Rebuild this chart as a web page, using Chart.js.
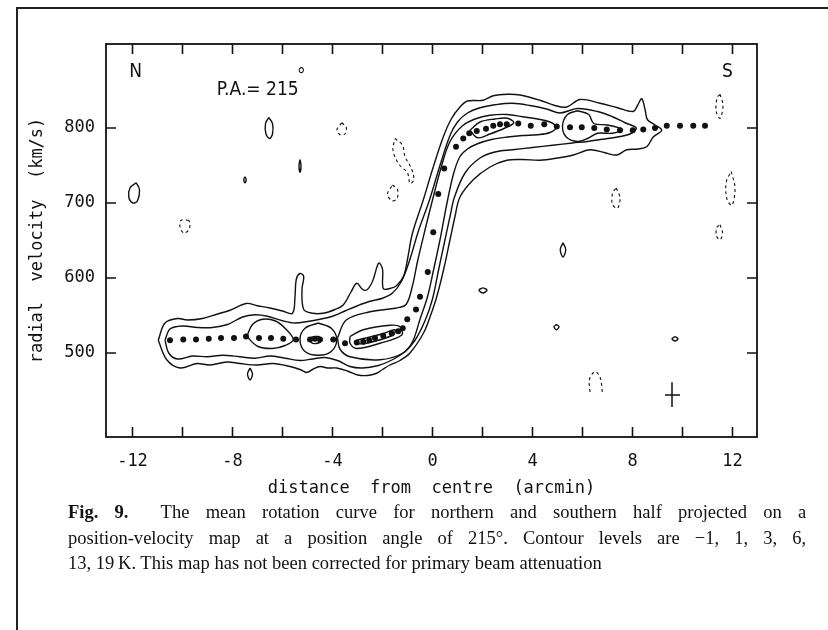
<!DOCTYPE html>
<html>
<head>
<meta charset="utf-8">
<script src="https://cdn.jsdelivr.net/npm/chart.js@4.4.1/dist/chart.umd.min.js"></script>
<style>
body { margin: 0; background: #fff; }
#wrap { position: relative; width: 828px; height: 630px; overflow: hidden; }
#frame { position: absolute; left: 16px; top: 7px; width: 900px; height: 700px; border-left: 2px solid #222; border-top: 2px solid #222; }
canvas { position: absolute; left: 0; top: 0; }
#cap { position: absolute; left: 68px; top: 499px; width: 777px; transform: scaleX(0.95); transform-origin: 0 0;
  font-family: "Liberation Serif", "Times New Roman", serif; font-size: 19.5px; line-height: 25.5px; color: #111; }
.j { text-align: justify; text-align-last: justify; }
</style>
</head>
<body>
<div id="wrap">
  <div id="frame"></div>
  <canvas id="grafico" width="828" height="630"></canvas>
  <div id="cap">
    <div class="j"><b>Fig. 9.</b>&nbsp; The mean rotation curve for northern and southern half projected on a</div>
    <div class="j">position-velocity map at a position angle of 215°. Contour levels are −1, 1, 3, 6,</div>
    <div>13, 19&#8201;K. This map has not been corrected for primary beam attenuation</div>
  </div>
</div>
<script>
// eixos
var xMinorTicks = [-12, -10, -8, -6, -4, -2, 0, 2, 4, 6, 8, 10, 12];
var xTickLabels = [-12, -8, -4, 0, 4, 8, 12];
var yTickLabels = [500, 600, 700, 800];

// curva de rotacao media (pontos)
var curveDist = [-10.5, -9.97, -9.46, -8.95, -8.46, -7.94, -7.46, -6.94, -6.46, -5.97, -5.46, -4.9, -4.7, -4.5, -3.97,
  -3.5, -3.03, -2.77, -2.53, -2.3, -1.97, -1.63, -1.37, -1.19, -1.01, -0.66, -0.5, -0.19, 0.03, 0.23, 0.47, 0.94,
  1.23, 1.47, 1.77, 2.14, 2.43, 2.7, 2.97, 3.43, 3.93, 4.47, 4.97, 5.5, 5.97, 6.47, 6.97, 7.5, 8.01, 8.43, 8.9,
  9.37, 9.9, 10.43, 10.9];
var curveVel = [517, 518, 518, 519, 520, 520, 522, 520, 520, 519, 518, 518, 519, 518, 518,
  513, 514, 515, 517, 520, 523, 526, 529, 533, 545, 558, 575, 608, 661, 712, 746, 775,
  786, 793, 796, 799, 803, 805, 805, 806, 803, 805, 802, 801, 801, 800, 798, 797, 797, 798, 800,
  803, 803, 803, 803];

// contornos (distancia, velocidade)
var contour1K = [[-10.97,517],[-10.7,540],[-10.2,546],[-9.8,544],[-9.2,546],[-8.6,552],[-8.1,557],[-7.45,566],[-7.0,563],
  [-6.5,560],[-6.0,556],[-5.6,553],[-5.5,575],[-5.45,598],[-5.3,606],[-5.15,602],[-5.22,585],[-5.15,558],[-4.8,553],
  [-4.37,553],[-3.9,558],[-3.57,564],[-3.25,582],[-3.03,593],[-2.8,585],[-2.63,584],[-2.45,592],[-2.35,600],[-2.15,620],
  [-2.0,612],[-1.97,586],[-1.7,586],[-1.43,590],[-1.15,603],[-1.0,625],[-0.8,660],[-0.37,704],[0.03,748],[0.43,788],
  [0.75,812],[1.1,828],[1.4,836],[2.03,837],[2.43,843],[3.0,845],[3.5,844],[4.3,837],[4.9,830],[5.37,828],[5.9,838],
  [6.7,833],[7.4,827],[8.03,822],[8.2,830],[8.37,839],[8.5,825],[8.6,811],[8.9,804],[9.17,797],[8.83,788],[8.57,775],
  [8.2,772],[7.77,771],[7.37,764],[6.9,767],[6.3,771],[5.63,764],[5.0,760],[4.3,757],[3.6,758],[2.97,757],[2.3,748],
  [1.63,731],[1.1,708],[0.9,682],[0.7,651],[0.45,612],[0.17,575],[-0.1,548],[-0.37,526],[-0.9,500],[-1.3,490],
  [-1.7,484],[-2.0,478],[-2.23,473],[-2.6,470],[-3.03,471],[-3.4,476],[-3.83,480],[-4.2,480],[-4.5,482],[-4.8,478],
  [-5.03,474],[-5.3,478],[-5.7,482],[-6.37,486],[-7.03,484],[-7.7,486],[-8.23,488],[-8.9,484],[-9.43,486],[-10.1,480],
  [-10.63,491],[-10.97,517]];
var contour3K = [[-10.7,517],[-10.5,532],[-10.0,536],[-9.4,534],[-8.8,534],[-8.2,538],[-7.6,548],[-7.1,551],[-6.6,549],
  [-6.0,543],[-5.5,540],[-5.0,542],[-4.5,545],[-4.0,549],[-3.5,556],[-3.0,563],[-2.5,569],[-2.0,573],[-1.6,580],
  [-1.25,595],[-0.95,620],[-0.55,664],[-0.12,704],[0.28,748],[0.7,790],[1.0,808],[1.4,820],[1.9,827],[2.5,831],
  [3.2,833],[3.9,830],[4.6,825],[5.1,820],[5.8,826],[6.6,822],[7.2,815],[7.7,807],[8.15,800],[7.9,792],[7.4,788],
  [6.8,785],[6.2,782],[5.6,780],[4.8,777],[4.0,774],[3.2,771],[2.5,768],[1.9,760],[1.3,740],[0.88,708],[0.7,682],
  [0.5,651],[0.25,612],[0.0,572],[-0.3,543],[-0.7,517],[-1.1,502],[-1.6,491],[-2.2,483],[-2.8,480],[-3.3,482],
  [-3.8,490],[-4.3,494],[-4.8,492],[-5.3,490],[-5.9,493],[-6.5,496],[-7.1,493],[-7.7,495],[-8.4,497],[-9.0,495],
  [-9.6,496],[-10.2,492],[-10.55,500],[-10.7,517]];
var contour6K = [[-3.8,520],[-3.45,544],[-2.5,555],[-1.45,560],[-1.05,565],[-0.8,590],[-0.6,622],[-0.3,664],[0.0,704],
  [0.35,748],[0.7,782],[1.2,803],[1.7,812],[2.3,817],[3.0,818],[3.6,815],[4.2,812],[4.7,808],[4.95,801],[4.7,794],
  [4.2,791],[3.6,790],[3.0,788],[2.4,785],[1.8,779],[1.4,772],[1.1,762],[0.85,740],[0.58,700],[0.3,651],[0.05,612],
  [-0.2,575],[-0.5,545],[-0.8,515],[-1.17,500],[-2.1,491],[-3.3,495],[-3.7,505],[-3.8,520]];
var loop6KWest = [[-7.43,522],[-7.2,538],[-6.8,545],[-6.3,543],[-5.9,533],[-5.57,518],[-5.9,510],[-6.4,506],[-7.0,509],[-7.43,522]];
var loop6KMid = [[-4.57,540],[-4.05,533],[-3.83,518],[-4.05,502],[-4.57,497],[-5.1,502],[-5.3,518],[-5.1,533],[-4.57,540]];
var loop13KMid = [[-4.85,521],[-4.55,522],[-4.45,517],[-4.6,513],[-4.85,514],[-4.85,521]];
var loop6KEast = [[5.8,823],[6.25,818],[6.45,806],[7.0,804],[7.6,798],[7.2,793],[6.6,793],[6.2,786],[5.8,782],[5.35,788],[5.2,803],[5.4,818],[5.8,823]];
var loop13KNorth = [[-3.3,522],[-2.77,531],[-1.7,537],[-1.3,535],[-1.23,524],[-2.1,513],[-3.03,506],[-3.3,513],[-3.3,522]];
var loop19KNorth = [[-3.03,517],[-1.97,526],[-1.5,531],[-1.57,524],[-2.63,513],[-3.03,513],[-3.03,517]];
var loop13KSouth = [[1.5,797],[1.9,808],[2.5,812],[3.0,813],[3.25,807],[2.9,800],[2.3,792],[1.8,787],[1.5,797]];

// pequenos contornos isolados (positivos)
var spotsPositive = [
  [[-6.55,814],[-6.4,806],[-6.4,792],[-6.52,786],[-6.66,792],[-6.68,806],[-6.55,814]],
  [[-5.3,758],[-5.26,750],[-5.3,741],[-5.34,750],[-5.3,758]],
  [[-7.5,735],[-7.45,731],[-7.5,727],[-7.55,731],[-7.5,735]],
  [[-11.85,727],[-11.72,718],[-11.8,703],[-11.98,700],[-12.15,708],[-12.1,720],[-11.85,727]],
  [[-7.3,480],[-7.2,472],[-7.3,464],[-7.4,472],[-7.3,480]],
  [[5.22,647],[5.33,638],[5.22,628],[5.11,638],[5.22,647]],
  [[2.02,587],[2.18,584],[2.02,580],[1.86,584],[2.02,587]],
  [[4.96,538],[5.06,535],[4.96,531],[4.86,535],[4.96,538]],
  [[9.7,522],[9.82,519],[9.7,516],[9.58,519],[9.7,522]]
];
// contornos negativos (-1 K, tracejados)
var spotsNegative = [
  [[-9.75,677],[-10.05,677],[-10.1,668],[-9.95,660],[-9.75,664],[-9.7,672],[-9.75,677]],
  [[-3.63,807],[-3.45,801],[-3.5,792],[-3.7,791],[-3.82,798],[-3.63,807]],
  [[-1.5,786],[-1.2,777],[-1.1,762],[-0.83,745],[-0.75,731],[-0.9,726],[-1.0,740],[-1.35,752],[-1.58,770],[-1.5,786]],
  [[-1.6,724],[-1.4,718],[-1.42,706],[-1.62,703],[-1.8,712],[-1.6,724]],
  [[6.3,448],[6.28,465],[6.5,475],[6.7,468],[6.8,447]],
  [[11.5,845],[11.62,830],[11.5,813],[11.35,822],[11.38,840],[11.5,845]],
  [[11.95,742],[12.1,720],[11.98,697],[11.78,705],[11.75,728],[11.95,742]],
  [[11.5,671],[11.6,660],[11.5,651],[11.35,657],[11.38,668],[11.5,671]],
  [[7.35,720],[7.5,707],[7.4,693],[7.2,698],[7.2,713],[7.35,720]]
];
// barra de resolucao
var beamVertical = [[9.58,461],[9.58,428]];
var beamHorizontal = [[9.3,444],[9.9,444]];

// textos dentro do mapa
var notes = [
  { text: 'N', x: -11.87, y: 874, align: 'center', size: 19 },
  { text: 'S', x: 11.8, y: 874, align: 'center', size: 19 },
  { text: 'P.A.= 215', x: -8.63, y: 851, align: 'left', size: 19 },
  { text: '°', x: -5.25, y: 868, align: 'center', size: 19 }
];

var tinta = '#111';
var fonteEixo = '"DejaVu Sans Mono", monospace';

function pts(arr) {
  return arr.map(function (p) { return { x: p[0], y: p[1] }; });
}
function linha(arr, tracejado, largura) {
  return {
    data: pts(arr),
    showLine: true,
    borderColor: tinta,
    borderWidth: largura || 1.4,
    borderDash: tracejado ? [3, 3] : [],
    pointRadius: 0,
    tension: arr.length < 3 ? 0 : 0.35,
    fill: false
  };
}

var datasets = [];
datasets.push({
  data: curveDist.map(function (d, i) { return { x: d, y: curveVel[i] }; }),
  showLine: false,
  pointRadius: 3,
  pointBackgroundColor: tinta,
  pointBorderWidth: 0
});
[contour1K, contour3K, contour6K, loop6KWest, loop6KMid, loop13KMid, loop6KEast, loop13KNorth, loop19KNorth, loop13KSouth]
  .forEach(function (c) { datasets.push(linha(c, false)); });
spotsPositive.forEach(function (c) { datasets.push(linha(c, false)); });
spotsNegative.forEach(function (c) { datasets.push(linha(c, true, 1.1)); });
datasets.push(linha(beamVertical, false, 1.5));
datasets.push(linha(beamHorizontal, false, 1.5));

var moldura = {
  id: 'moldura',
  afterDatasetsDraw: function (chart) {
    var ctx = chart.ctx, a = chart.chartArea, x = chart.scales.x, y = chart.scales.y;
    ctx.save();
    ctx.strokeStyle = tinta;
    ctx.lineWidth = 1.8;
    ctx.strokeRect(a.left, a.top, a.right - a.left, a.bottom - a.top);
    ctx.beginPath();
    xMinorTicks.forEach(function (v) {
      var px = x.getPixelForValue(v);
      ctx.moveTo(px, a.bottom); ctx.lineTo(px, a.bottom - 10);
      ctx.moveTo(px, a.top); ctx.lineTo(px, a.top + 10);
    });
    yTickLabels.forEach(function (v) {
      var py = y.getPixelForValue(v);
      ctx.moveTo(a.left, py); ctx.lineTo(a.left + 10, py);
      ctx.moveTo(a.right, py); ctx.lineTo(a.right - 10, py);
    });
    ctx.lineWidth = 1.6;
    ctx.stroke();
    ctx.fillStyle = tinta;
    ctx.textBaseline = 'middle';
    notes.forEach(function (n) {
      ctx.font = n.size + 'px "DejaVu Sans Condensed", "DejaVu Sans", sans-serif';
      ctx.textAlign = n.align;
      ctx.fillText(n.text, x.getPixelForValue(n.x), y.getPixelForValue(n.y));
    });
    ctx.restore();
  }
};

new Chart(document.getElementById('grafico'), {
  type: 'scatter',
  data: { datasets: datasets },
  options: {
    responsive: false,
    animation: false,
    devicePixelRatio: 1,
    layout: { padding: { left: 20, top: 44, right: 71, bottom: 125 } },
    plugins: { legend: { display: false }, tooltip: { enabled: false } },
    scales: {
      x: {
        type: 'linear',
        min: -13.06,
        max: 12.98,
        afterBuildTicks: function (s) { s.ticks = xTickLabels.map(function (v) { return { value: v }; }); },
        afterFit: function (s) { s.height = 68; },
        grid: { display: false, drawTicks: false },
        border: { display: false },
        ticks: { padding: 14, autoSkip: false, maxRotation: 0, color: tinta, font: { family: fonteEixo, size: 17 },
          callback: function (v) { return String(v); } },
        title: { display: true, text: 'distance  from  centre  (arcmin)', color: tinta,
          font: { family: fonteEixo, size: 17 }, padding: { top: 0, bottom: 6 } }
      },
      y: {
        type: 'linear',
        min: 388,
        max: 912,
        afterBuildTicks: function (s) { s.ticks = yTickLabels.map(function (v) { return { value: v }; }); },
        afterFit: function (s) { s.width = 86; },
        grid: { display: false, drawTicks: false },
        border: { display: false },
        ticks: { padding: 11, autoSkip: false, color: tinta, font: { family: fonteEixo, size: 17 },
          callback: function (v) { return String(v); } },
        title: { display: true, text: 'radial  velocity  (km/s)', color: tinta,
          font: { family: fonteEixo, size: 17 }, padding: { top: 7, bottom: 0 } }
      }
    }
  },
  plugins: [moldura]
});
</script>
</body>
</html>
